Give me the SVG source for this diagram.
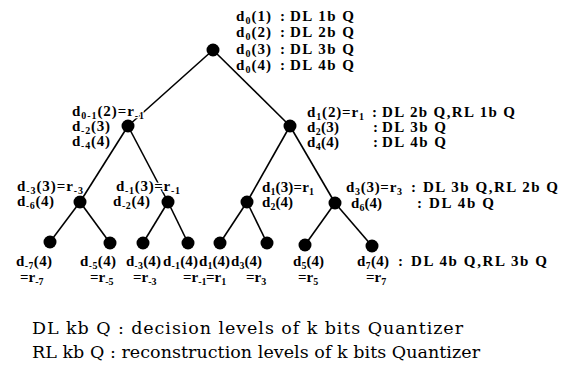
<svg xmlns="http://www.w3.org/2000/svg" width="569" height="377" viewBox="0 0 569 377">
<style>
.t{font-family:"Liberation Serif","Times New Roman",serif;font-weight:bold;font-size:15px;fill:#000;stroke:#fff;stroke-width:2.5;stroke-linejoin:round;paint-order:stroke}
.s{font-size:10px}
.lg{font-family:"DejaVu Serif","Liberation Serif",serif;font-size:17.5px;fill:#000}
.e{stroke:#000;stroke-width:1.6;fill:none}
.n{fill:#000}
</style>
<rect width="569" height="377" fill="#fff"/>
<g id="connectors">
<line class="e" x1="213" y1="50" x2="128" y2="126"/>
<line class="e" x1="213" y1="50" x2="290" y2="126"/>
<line class="e" x1="128" y1="126" x2="80" y2="202"/>
<line class="e" x1="128" y1="126" x2="168" y2="202"/>
<line class="e" x1="290" y1="126" x2="247" y2="202"/>
<line class="e" x1="290" y1="126" x2="335" y2="203"/>
<line class="e" x1="80" y1="202" x2="50" y2="242"/>
<line class="e" x1="80" y1="202" x2="110" y2="243"/>
<line class="e" x1="168" y1="202" x2="143" y2="243"/>
<line class="e" x1="168" y1="202" x2="188" y2="243"/>
<line class="e" x1="247" y1="202" x2="220" y2="243"/>
<line class="e" x1="247" y1="202" x2="267" y2="243"/>
<line class="e" x1="335" y1="203" x2="305" y2="245"/>
<line class="e" x1="335" y1="203" x2="372" y2="246"/>
</g>
<g id="root">
<circle class="n" cx="213" cy="50" r="6.5"/>
<text class="t" x="236" y="20.5" textLength="35" lengthAdjust="spacing">d<tspan class="s" dy="3">0</tspan><tspan dy="-3">(1)</tspan></text>
<text class="t" x="280" y="20.5">:</text>
<text class="t" x="290" y="20.5" textLength="64" lengthAdjust="spacing">DL 1b Q</text>
<text class="t" x="236" y="37" textLength="35" lengthAdjust="spacing">d<tspan class="s" dy="3">0</tspan><tspan dy="-3">(2)</tspan></text>
<text class="t" x="280" y="37">:</text>
<text class="t" x="290" y="37" textLength="64" lengthAdjust="spacing">DL 2b Q</text>
<text class="t" x="236" y="53.5" textLength="35" lengthAdjust="spacing">d<tspan class="s" dy="3">0</tspan><tspan dy="-3">(3)</tspan></text>
<text class="t" x="280" y="53.5">:</text>
<text class="t" x="290" y="53.5" textLength="64" lengthAdjust="spacing">DL 3b Q</text>
<text class="t" x="236" y="70" textLength="35" lengthAdjust="spacing">d<tspan class="s" dy="3">0</tspan><tspan dy="-3">(4)</tspan></text>
<text class="t" x="280" y="70">:</text>
<text class="t" x="290" y="70" textLength="64" lengthAdjust="spacing">DL 4b Q</text>
</g>
<g id="n-left2">
<circle class="n" cx="128" cy="126" r="6.5"/>
<text class="t" x="72" y="116" textLength="72" lengthAdjust="spacing">d<tspan class="s" dy="3">0-1</tspan><tspan dy="-3">(2)=r</tspan><tspan class="s" dy="3">-1</tspan></text>
<text class="t" x="72" y="131" textLength="38" lengthAdjust="spacing">d<tspan class="s" dy="3">-2</tspan><tspan dy="-3">(3)</tspan></text>
<text class="t" x="72" y="146" textLength="38" lengthAdjust="spacing">d<tspan class="s" dy="3">-4</tspan><tspan dy="-3">(4)</tspan></text>
</g>
<g id="n-right2">
<circle class="n" cx="290" cy="126" r="6.5"/>
<text class="t" x="307" y="116.5" textLength="57" lengthAdjust="spacing">d<tspan class="s" dy="3">1</tspan><tspan dy="-3">(2)=r</tspan><tspan class="s" dy="3">1</tspan></text>
<text class="t" x="372" y="116.5">:</text>
<text class="t" x="382" y="116.5" textLength="133" lengthAdjust="spacing">DL 2b Q,RL 1b Q</text>
<text class="t" x="307" y="132" textLength="32" lengthAdjust="spacing">d<tspan class="s" dy="3">2</tspan><tspan dy="-3">(3)</tspan></text>
<text class="t" x="373" y="132">:</text>
<text class="t" x="382" y="132" textLength="64" lengthAdjust="spacing">DL 3b Q</text>
<text class="t" x="307" y="147" textLength="32" lengthAdjust="spacing">d<tspan class="s" dy="3">4</tspan><tspan dy="-3">(4)</tspan></text>
<text class="t" x="373" y="147">:</text>
<text class="t" x="382" y="147" textLength="64" lengthAdjust="spacing">DL 4b Q</text>
</g>
<g id="n-ll3">
<circle class="n" cx="80" cy="202" r="6.5"/>
<text class="t" x="17" y="191" textLength="66" lengthAdjust="spacing">d<tspan class="s" dy="3">-3</tspan><tspan dy="-3">(3)=r</tspan><tspan class="s" dy="3">-3</tspan></text>
<text class="t" x="17" y="206" textLength="37" lengthAdjust="spacing">d<tspan class="s" dy="3">-6</tspan><tspan dy="-3">(4)</tspan></text>
</g>
<g id="n-lr3">
<circle class="n" cx="168" cy="202" r="6.5"/>
<text class="t" x="116" y="190.5" textLength="64" lengthAdjust="spacing">d<tspan class="s" dy="3">-1</tspan><tspan dy="-3">(3)=r</tspan><tspan class="s" dy="3">-1</tspan></text>
<text class="t" x="113" y="206" textLength="37" lengthAdjust="spacing">d<tspan class="s" dy="3">-2</tspan><tspan dy="-3">(4)</tspan></text>
</g>
<g id="n-rl3">
<circle class="n" cx="247" cy="202" r="6.5"/>
<text class="t" x="262" y="192" textLength="52" lengthAdjust="spacing">d<tspan class="s" dy="3">1</tspan><tspan dy="-3">(3)=r</tspan><tspan class="s" dy="3">1</tspan></text>
<text class="t" x="262" y="207" textLength="31" lengthAdjust="spacing">d<tspan class="s" dy="3">2</tspan><tspan dy="-3">(4)</tspan></text>
</g>
<g id="n-rr3">
<circle class="n" cx="335" cy="203" r="6.5"/>
<text class="t" x="346" y="192" textLength="56" lengthAdjust="spacing">d<tspan class="s" dy="2.5">3</tspan><tspan dy="-2.5">(3)=r</tspan><tspan class="s" dy="2.5">3</tspan></text>
<text class="t" x="411" y="192">:</text>
<text class="t" x="423" y="192" textLength="135" lengthAdjust="spacing">DL 3b Q,RL 2b Q</text>
<text class="t" x="351" y="208" textLength="31" lengthAdjust="spacing">d<tspan class="s" dy="3">6</tspan><tspan dy="-3">(4)</tspan></text>
<text class="t" x="417" y="208">:</text>
<text class="t" x="429" y="208" textLength="65" lengthAdjust="spacing">DL 4b Q</text>
</g>
<g id="leaf-m7">
<circle class="n" cx="50" cy="242" r="6.5"/>
<text class="t" x="16" y="266" textLength="36" lengthAdjust="spacing">d<tspan class="s" dy="2.5">-7</tspan><tspan dy="-2.5">(4)</tspan></text>
<text class="t" x="20" y="282">=r<tspan class="s" dy="2.5">-7</tspan></text>
</g>
<g id="leaf-m5">
<circle class="n" cx="110" cy="243" r="6.5"/>
<text class="t" x="80" y="266" textLength="36" lengthAdjust="spacing">d<tspan class="s" dy="2.5">-5</tspan><tspan dy="-2.5">(4)</tspan></text>
<text class="t" x="90" y="282">=r<tspan class="s" dy="2.5">-5</tspan></text>
</g>
<g id="leaf-m3">
<circle class="n" cx="143" cy="243" r="6.5"/>
<text class="t" x="126" y="266" textLength="35" lengthAdjust="spacing">d<tspan class="s" dy="2.5">-3</tspan><tspan dy="-2.5">(4)</tspan></text>
<text class="t" x="133" y="282">=r<tspan class="s" dy="2.5">-3</tspan></text>
</g>
<g id="leaf-m1">
<circle class="n" cx="188" cy="243" r="6.5"/>
<text class="t" x="163" y="266" textLength="35" lengthAdjust="spacing">d<tspan class="s" dy="2.5">-1</tspan><tspan dy="-2.5">(4)</tspan></text>
<text class="t" x="183" y="282">=r<tspan class="s" dy="2.5">-1</tspan></text>
</g>
<g id="leaf-p1">
<circle class="n" cx="220" cy="243" r="6.5"/>
<text class="t" x="199" y="266" textLength="31" lengthAdjust="spacing">d<tspan class="s" dy="2.5">1</tspan><tspan dy="-2.5">(4)</tspan></text>
<text class="t" x="206" y="282">=r<tspan class="s" dy="2.5">1</tspan></text>
</g>
<g id="leaf-p3">
<circle class="n" cx="267" cy="243" r="6.5"/>
<text class="t" x="231" y="266" textLength="31" lengthAdjust="spacing">d<tspan class="s" dy="2.5">3</tspan><tspan dy="-2.5">(4)</tspan></text>
<text class="t" x="246" y="282">=r<tspan class="s" dy="2.5">3</tspan></text>
</g>
<g id="leaf-p5">
<circle class="n" cx="305" cy="245" r="6.5"/>
<text class="t" x="293" y="266" textLength="31" lengthAdjust="spacing">d<tspan class="s" dy="2.5">5</tspan><tspan dy="-2.5">(4)</tspan></text>
<text class="t" x="298" y="282">=r<tspan class="s" dy="2.5">5</tspan></text>
</g>
<g id="leaf-p7">
<circle class="n" cx="372" cy="246" r="6.5"/>
<text class="t" x="357" y="266" textLength="32" lengthAdjust="spacing">d<tspan class="s" dy="2.5">7</tspan><tspan dy="-2.5">(4)</tspan></text>
<text class="t" x="398" y="266">:</text>
<text class="t" x="411" y="266" textLength="136" lengthAdjust="spacing">DL 4b Q,RL 3b Q</text>
<text class="t" x="366" y="282">=r<tspan class="s" dy="2.5">7</tspan></text>
</g>
<g id="legend">
<text class="lg" x="32" y="334" textLength="431" lengthAdjust="spacing">DL kb Q : decision levels of k bits Quantizer</text>
<text class="lg" x="32" y="358" textLength="448" lengthAdjust="spacing">RL kb Q : reconstruction levels of k bits Quantizer</text>
</g>
</svg>
